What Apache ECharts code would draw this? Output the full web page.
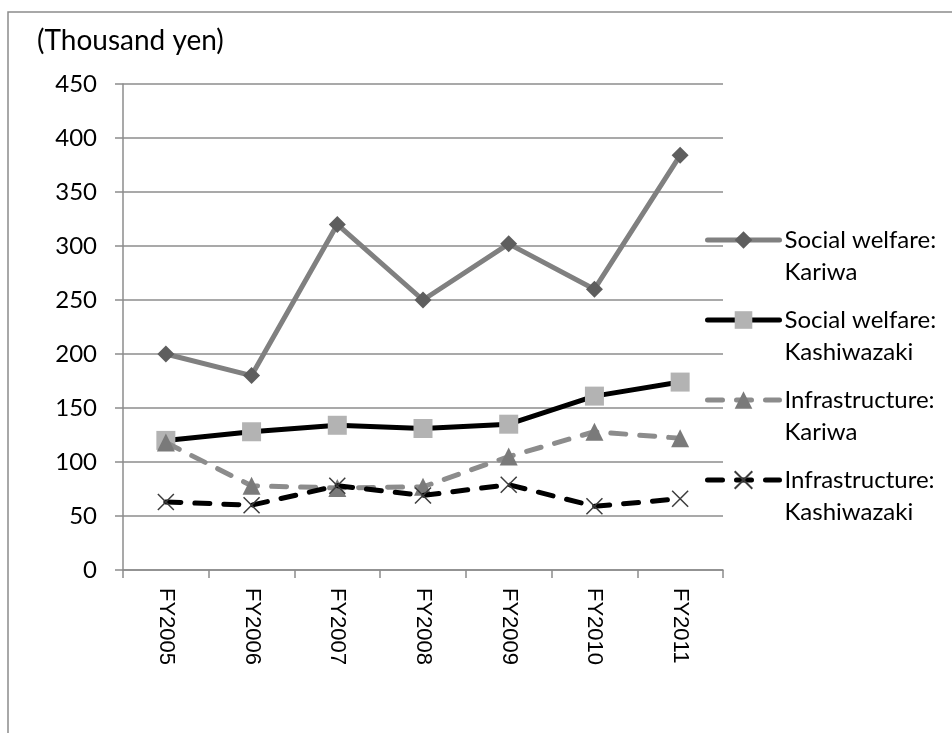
<!DOCTYPE html>
<html>
<head>
<meta charset="utf-8">
<script src="https://cdn.jsdelivr.net/npm/echarts@6/dist/echarts.min.js"></script>
<style>
  html, body { margin: 0; padding: 0; background: #fff; }
  #chart { width: 952px; height: 733px; }
</style>
</head>
<body>
<div id="chart"></div>
<script>
// Fiscal years on the category axis
const years = ['FY2005', 'FY2006', 'FY2007', 'FY2008', 'FY2009', 'FY2010', 'FY2011'];

// Per-capita spending, thousand yen
const welfareKariwa = [200, 180, 320, 250, 302, 260, 384];
const welfareKashiwazaki = [120, 128, 134, 131, 135, 161, 174];
const infraKariwa = [118, 78, 76, 77, 105, 128, 122];
const infraKashiwazaki = [63, 60, 78, 69, 79, 59, 66];

// Value axis range and step
const yMin = 0, yMax = 450, yStep = 50;

const unitLabel = '(Thousand yen)';
const seriesNames = [
  'Social welfare: Kariwa',
  'Social welfare: Kashiwazaki',
  'Infrastructure: Kariwa',
  'Infrastructure: Kashiwazaki'
];

const GRID = '#8c8c8c';
const LABEL_FONT = 'Lato';
const CAT_FONT = '"Liberation Sans", sans-serif';
const CROSS = 'path://M0,0L10,10M10,0L0,10';

const chart = echarts.init(document.getElementById('chart'), null, { renderer: 'canvas' });

chart.setOption({
  animation: false,
  backgroundColor: '#fff',
  graphic: [
    {
      type: 'rect',
      shape: { x: 8, y: 12, width: 980, height: 760 },
      style: { fill: 'none', stroke: GRID, lineWidth: 1.5 },
      silent: true
    },
    {
      type: 'text',
      left: 37,
      top: 27,
      style: { text: unitLabel, font: '28px Lato', fill: '#000' }
    }
  ],
  grid: { left: 123, right: 229, top: 84, bottom: 163, containLabel: false },
  legend: {
    orient: 'vertical',
    left: 705,
    top: 192,
    padding: 0,
    itemWidth: 72,
    itemHeight: 22,
    itemGap: -16,
    data: seriesNames,
    lineStyle: { width: 5, cap: 'round' },
    textStyle: { fontFamily: LABEL_FONT, fontSize: 24, lineHeight: 32, color: '#000' },
    formatter: function (name) { return '\n' + name.replace(': ', ':\n'); }
  },
  xAxis: {
    type: 'category',
    data: years,
    boundaryGap: true,
    axisLine: { show: true, lineStyle: { color: GRID, width: 1.5 } },
    axisTick: { show: true, length: 8, lineStyle: { color: GRID, width: 1.5 } },
    axisLabel: { rotate: -90, margin: 18, fontFamily: CAT_FONT, fontSize: 22, color: '#000', interval: 0 },
    splitLine: { show: false }
  },
  yAxis: {
    type: 'value',
    min: yMin,
    max: yMax,
    interval: yStep,
    axisLine: { show: true, lineStyle: { color: GRID, width: 1.5 } },
    axisTick: { show: true, length: 8, lineStyle: { color: GRID, width: 1.5 } },
    axisLabel: { margin: 26, fontFamily: LABEL_FONT, fontSize: 24, color: '#000' },
    splitLine: { show: true, lineStyle: { color: GRID, width: 1.5 } }
  },
  series: [
    {
      name: seriesNames[0],
      type: 'line',
      data: welfareKariwa,
      symbol: 'diamond',
      symbolSize: 17,
      lineStyle: { color: '#808080', width: 5, cap: 'round', join: 'round' },
      itemStyle: { color: '#5e5e5e' },
      z: 2
    },
    {
      name: seriesNames[1],
      type: 'line',
      data: welfareKashiwazaki,
      symbol: 'rect',
      symbolSize: 19,
      lineStyle: { color: '#000', width: 5, cap: 'round', join: 'round' },
      itemStyle: { color: '#b3b3b3' },
      z: 3
    },
    {
      name: seriesNames[2],
      type: 'line',
      data: infraKariwa,
      symbol: 'triangle',
      symbolSize: 18,
      lineStyle: { color: '#8c8c8c', width: 5, type: [15, 14], cap: 'round', join: 'round' },
      itemStyle: { color: '#7a7a7a' },
      z: 4
    },
    {
      name: seriesNames[3],
      type: 'line',
      data: infraKashiwazaki,
      symbol: CROSS,
      symbolSize: 16,
      lineStyle: { color: '#000', width: 5, type: [15, 14], cap: 'round', join: 'round' },
      itemStyle: { color: 'rgba(0,0,0,0)', borderColor: '#3c3c3c', borderWidth: 1.5 },
      z: 5
    }
  ]
});
</script>
</body>
</html>
